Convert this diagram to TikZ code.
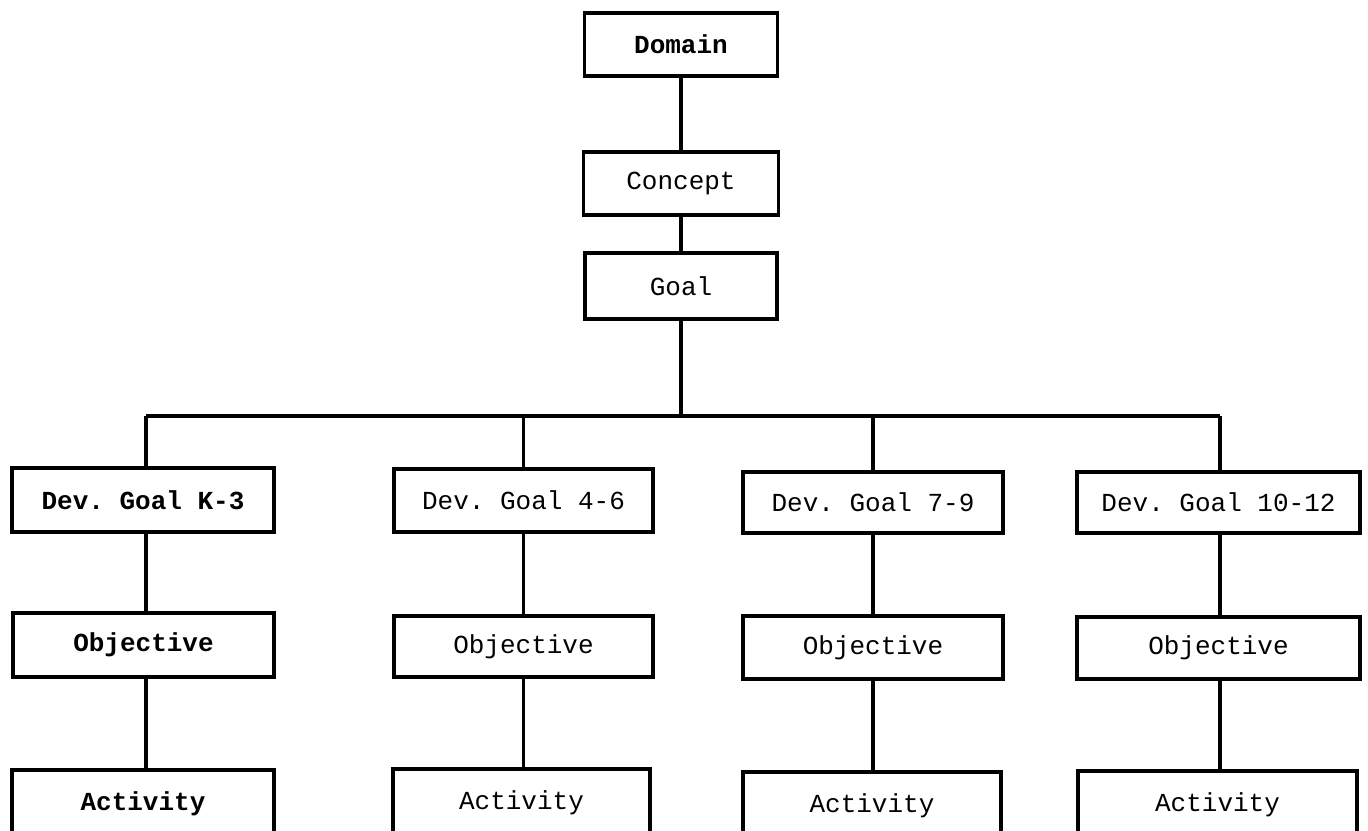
\documentclass[tikz,border=0pt]{standalone}
\usepackage{fontspec}
\setmonofont{Liberation Mono}
\begin{document}
\begin{tikzpicture}[x=0.75pt,y=-0.75pt,
  box/.style={draw=black,line width=2.4pt,fill=white,inner sep=0pt,
    font=\ttfamily\fontsize{19.5}{22}\selectfont,text=black},
  bbox/.style={box,font=\ttfamily\bfseries\fontsize{19.5}{22}\selectfont},
  sz/.style 2 args={minimum width=#1*0.75pt,minimum height=#2*0.75pt},
  link/.style={line width=2.5pt,black}]
\clip (0,0) rectangle (1368,831);
\fill[white] (0,0) rectangle (1368,831);
\coordinate (busL) at (146,416);
\coordinate (busR) at (1220,416);
\coordinate (busM) at (681,416);
% top column
\node[bbox,sz={193}{63}] (domain) at (681,44.5) {Domain};
\node[box,sz={195}{63}] (concept) at (681,183.5) {Concept};
\node[box,sz={192}{66}] (goal) at (681,286) {Goal};
% level 1
\node[bbox,sz={262}{64}] (dg1) at (143,500) {Dev. Goal K-3};
\node[box,sz={259}{63}] (dg2) at (523.5,500.5) {Dev. Goal 4-6};
\node[box,sz={260}{61}] (dg3) at (873,502.5) {Dev. Goal 7-9};
\node[box,sz={283}{61}] (dg4) at (1218.5,502.5) {Dev. Goal 10-12};
% level 2
\node[bbox,sz={261}{64}] (ob1) at (143.5,645) {Objective};
\node[box,sz={259}{61}] (ob2) at (523.5,646.5) {Objective};
\node[box,sz={260}{63}] (ob3) at (873,647.5) {Objective};
\node[box,sz={283}{62}] (ob4) at (1218.5,648) {Objective};
% level 3
\node[bbox,sz={262}{68}] (ac1) at (143,804) {Activity};
\node[box,sz={257}{68}] (ac2) at (521.5,803) {Activity};
\node[box,sz={258}{68}] (ac3) at (872,806) {Activity};
\node[box,sz={279}{68}] (ac4) at (1217.5,805) {Activity};
% connectors
\draw[link] (domain.south) -- (concept.north);
\draw[link] (concept.south) -- (goal.north);
\draw[link] (goal.south) -- (busM);
\draw[link] (busL) -- (busR);
\draw[link] (busL) -- (dg1.north -| busL);
\draw[link] (dg2.north |- busM) -- (dg2.north);
\draw[link] (dg3.north |- busM) -- (dg3.north);
\draw[link] (busR) -- (dg4.north -| busR);
\draw[link] (dg1.south -| busL) -- (ob1.north -| busL);
\draw[link] (dg2.south) -- (ob2.north -| dg2.south);
\draw[link] (dg3.south) -- (ob3.north -| dg3.south);
\draw[link] (dg4.south -| busR) -- (ob4.north -| busR);
\draw[link] (ob1.south -| busL) -- (ac1.north -| busL);
\draw[link] (ob2.south) -- (ac2.north -| ob2.south);
\draw[link] (ob3.south) -- (ac3.north -| ob3.south);
\draw[link] (ob4.south -| busR) -- (ac4.north -| busR);
\end{tikzpicture}
\end{document}
